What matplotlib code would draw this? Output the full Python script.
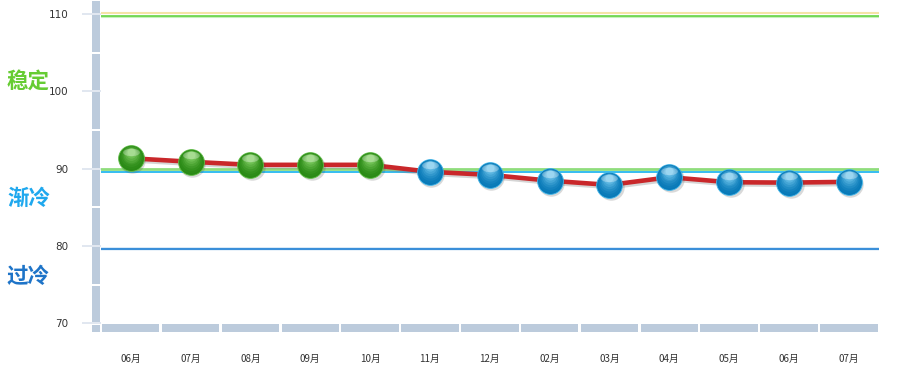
import matplotlib
matplotlib.use("Agg")
import matplotlib.pyplot as plt
import matplotlib.transforms as mtransforms
import matplotlib.patheffects as pe
import matplotlib.colors as mcolors
from matplotlib.patches import Rectangle
from matplotlib.path import Path
import numpy as np

plt.rcParams['font.family'] = ['Noto Sans CJK SC', 'DejaVu Sans']

# ---- data ----
months = ['06月', '07月', '08月', '09月', '10月', '11月', '12月',
          '02月', '03月', '04月', '05月', '06月', '07月']
values = [91.35, 90.9, 90.5, 90.5, 90.5, 89.6, 89.2, 88.45, 87.9, 88.9, 88.25, 88.2, 88.3]
y_ticks = [70, 80, 90, 100, 110]
y_tick_labels = ['70', '80', '90', '100', '110']
threshold = 90
zone_labels = ['稳定', '渐冷', '过冷']
zone_label_values = [101.3, 86.2, 76.0]
zone_label_colors = ['#66cc33', '#1fa8ee', '#1e74c8']

W, H = 899, 373
fig = plt.figure(figsize=(W / 100, H / 100), dpi=100)
ax_left, ax_right = 100.8, 878.8
ax_bottom_px = 323.3
ax = fig.add_axes([ax_left / W, (H - ax_bottom_px) / H, (ax_right - ax_left) / W, ax_bottom_px / H])
ymin, ymax = 70, 70 + 323.3 / 7.73
ax.set_ylim(ymin, ymax)
ax.set_xlim(-0.5, len(months) - 0.5)
for s in ax.spines.values():
    s.set_visible(False)

x = np.arange(len(months))

# reference lines
ax.axhline(110.12, color='#f4e4a6', lw=1.5, zorder=1)
ax.axhline(109.8, color='#6fd64f', lw=2.0, zorder=1)
ax.axhline(109.62, color='#c8f0bc', lw=0.8, zorder=1)
ax.axhline(89.98, color='#8fdd7c', lw=2.0, zorder=1)
ax.axhline(89.62, color='#35bdf0', lw=1.4, zorder=1)
ax.axhline(79.75, color='#a8d6f4', lw=1.0, zorder=1)
ax.axhline(79.58, color='#3b8fd9', lw=1.6, zorder=1)

# line
ax.plot(x, values, color='#c9272a', lw=3.3, zorder=3, solid_joinstyle='round',
        path_effects=[pe.SimpleLineShadow(offset=(1.2, -1.5), shadow_color='#777777', alpha=0.3),
                      pe.Normal()])

# glossy markers
vals = np.array(values)
green = vals >= threshold
blue = ~green

def ellipse_path(w, h):
    t = np.linspace(0, 2 * np.pi, 60)
    return Path(np.column_stack([w * np.cos(t), h * np.sin(t)]), closed=True)

S = 345
shadow_t = mtransforms.offset_copy(ax.transData, fig=fig, x=1.5, y=-2.0, units='dots')
for mask, dark, light, edge in [(green, '#2a8a15', '#9be27a', '#62bf4a'),
                                 (blue, '#0879b8', '#8fdcfa', '#45b8ea')]:
    xs, ys = x[mask], vals[mask]
    ax.scatter(xs, ys, s=S * 1.05, color='#444444', alpha=0.2, lw=0, zorder=4, transform=shadow_t)
    ax.scatter(xs, ys, s=S, color=dark, edgecolor=edge, lw=0.6, zorder=5)
    c0 = np.array(mcolors.to_rgb(dark))
    c1 = np.array(mcolors.to_rgb(light))
    n = 8
    for k in range(1, n):
        f = k / n
        col = c0 + (c1 - c0) * f ** 1.6
        size = S * ((1 - 0.8 * f) ** 2)
        t = mtransforms.offset_copy(ax.transData, fig=fig, x=0, y=7.5 * f, units='dots')
        ax.scatter(xs, ys, s=size, color=col, alpha=0.85, lw=0, zorder=5 + k * 0.1, transform=t)
    hi_t = mtransforms.offset_copy(ax.transData, fig=fig, x=0, y=6.5, units='dots')
    ax.scatter(xs, ys, s=S * 0.42, marker=ellipse_path(1.0, 0.45), color='white', alpha=0.3, lw=0,
               zorder=6.5, transform=hi_t)

# axis decoration: vertical bar segments
bar_c = '#bccbdc'
tr_v = mtransforms.blended_transform_factory(fig.transFigure, ax.transData)
gap = 1.0 / 7.73
edges = list(range(70, 111, 5)) + [ymax]
for a, b in zip(edges[:-1], edges[1:]):
    lo = a + gap
    ax.add_patch(Rectangle((92 / W, lo), 8 / W, (b - gap) - lo, transform=tr_v,
                           color=bar_c, lw=0, clip_on=False, zorder=8))
# bottom bar segments
tr_h = mtransforms.blended_transform_factory(ax.transData, fig.transFigure)
px = 1.0 / 59.85
for xi in x:
    ax.add_patch(Rectangle((xi - 0.5 + 1.2 * px, (H - 332) / H), 1 - 2.4 * px, 8 / H, transform=tr_h,
                           color=bar_c, lw=0, clip_on=False, zorder=8))
ax.add_patch(Rectangle((92 / W, (H - 332) / H), 8 / W, 7.5 / H, transform=fig.transFigure,
                       color=bar_c, lw=0, clip_on=False, zorder=8))

# ticks
ax.set_yticks(y_ticks)
ax.set_yticklabels(y_tick_labels, fontsize=7.5, color='#333333', family='DejaVu Sans')
ax.tick_params(axis='y', length=13.5, width=1.2, color='#dbe3ed', pad=10)
ax.set_xticks(x)
ax.set_xticklabels(months, fontsize=7, color='#333333')
ax.tick_params(axis='x', length=0, pad=22)

# zone labels
for lab, v, c in zip(zone_labels, zone_label_values, zone_label_colors):
    yfig = ax.transData.transform((0, v))[1] / H
    fig.text(7 / W, yfig, lab, fontsize=15.5, fontweight='bold', color=c, va='center', ha='left')

fig.savefig('out.png', dpi=100)
